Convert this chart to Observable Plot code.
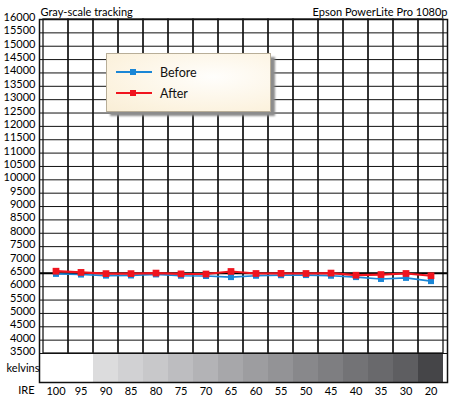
<!DOCTYPE html>
<html><head><meta charset="utf-8">
<script src="https://cdn.jsdelivr.net/npm/d3@7"></script>
<script src="https://cdn.jsdelivr.net/npm/@observablehq/plot@0.6"></script>
<style>
body{margin:0;background:#fff;font-family:Lato,sans-serif}
#wrap{position:relative;width:450px;height:398px}
#legend{position:absolute;left:106px;top:53px;width:163px;height:57px;border:1px solid #b8ae98;background:radial-gradient(ellipse at 65% 40%, #fffefc 0%, #fcf3e0 70%, #f9eed6 100%);box-shadow:4px 4px 2px #8c8c8c;}
.item{position:absolute;left:9px;display:flex;align-items:center;font-size:12.5px;color:#111;height:14px}
.item span{margin-left:8px}
</style></head>
<body><div id="wrap"><div id="legend"></div></div>
<script>
const title = "Gray-scale tracking";
const subtitle = "Epson PowerLite Pro 1080p";
const ire = ["100","95","90","85","80","75","70","65","60","55","50","45","40","35","30","20"];
const grays = ["#ffffff","#ffffff","#dcdcdd","#d1d1d3","#c8c8ca","#bdbdc0","#b3b3b6","#a7a7aa","#9d9da0","#939396","#88888b","#7e7e81","#737376","#69696c","#5e5e61","#454548"];
const before = [6480,6455,6415,6420,6460,6410,6400,6360,6410,6430,6435,6410,6360,6290,6330,6210];
const after  = [6580,6535,6490,6490,6510,6480,6475,6570,6495,6500,6495,6510,6430,6455,6495,6410];
const seriesNames = ["Before","After"];
const seriesColors = ["#1a86d6","#f0141e"];
const yTicks = d3.range(3500, 16001, 500);
const yMin = 3500, yMax = 16000, bandBottom = 2415, reference = 6500;

const beforeData = ire.map((x,i)=>({x, y: before[i]}));
const afterData = ire.map((x,i)=>({x, y: after[i]}));
const bandData = ire.map((x,i)=>({x, fill: grays[i]}));

const font = 'Lato, sans-serif';
const chart = Plot.plot({
  width: 450, height: 398,
  marginLeft: 39, marginRight: 3, marginTop: 19, marginBottom: 16,
  style: {fontFamily: font, fontSize: "11px", color: "#000", background: "transparent", overflow: "visible"},
  x: {type: "band", domain: ire, padding: 0},
  y: {domain: [bandBottom, yMax]},
  color: {type: "identity"},
  marks: [
    Plot.barY(bandData, {x: "x", y1: bandBottom, y2: yMin, fill: "fill", inset: 0}),
    Plot.barY(ire, {x: d=>d, y1: yMin, y2: yMax, fill: "none", stroke: "#1a1a1a", strokeWidth: 1.3, inset: 0}),
    Plot.ruleY(yTicks, {stroke: "#111", strokeWidth: 1}),
    Plot.ruleY([reference], {stroke: "#000", strokeWidth: 2}),
    Plot.frame({stroke: "#111", strokeWidth: 1.5}),
    Plot.line(beforeData, {x: "x", y: "y", stroke: seriesColors[0], strokeWidth: 1.6}),
    Plot.dot(beforeData, {x: "x", y: "y", symbol: "square", r: 3.4, fill: seriesColors[0], stroke: "none"}),
    Plot.line(afterData, {x: "x", y: "y", stroke: seriesColors[1], strokeWidth: 2.2}),
    Plot.dot(afterData, {x: "x", y: "y", symbol: "square", r: 3.8, fill: seriesColors[1], stroke: "none"}),
    Plot.axisY({ticks: yTicks, tickFormat: d => String(d), tickSize: 0, tickPadding: 4, dy: -2, label: null, fontSize: 11}),
    Plot.axisX({tickSize: 0, tickPadding: 5, label: null, fontSize: 11}),
    Plot.text(["kelvins"], {frameAnchor: "left", y: () => (bandBottom + yMin) / 2, text: d=>d, textAnchor: "end", dx: 0, fontSize: 11}),
    Plot.text(["IRE"], {frameAnchor: "bottom-left", text: d=>d, textAnchor: "end", dx: -5, dy: 11, fontSize: 11}),
    Plot.text([title], {frameAnchor: "top-left", text: d=>d, textAnchor: "start", lineAnchor: "bottom", dx: 1, dy: -4, fontSize: 11}),
    Plot.text([subtitle], {frameAnchor: "top-right", text: d=>d, textAnchor: "end", lineAnchor: "bottom", dx: 0, dy: -4, fontSize: 11})
  ]
});
document.getElementById("wrap").prepend(chart);

const legend = document.getElementById("legend");
seriesNames.forEach((name, i) => {
  const item = document.createElement("div");
  item.className = "item";
  item.style.top = (11 + i * 21) + "px";
  item.innerHTML = `<svg width="36" height="10"><line x1="0" x2="36" y1="5" y2="5" stroke="${seriesColors[i]}" stroke-width="2"/><rect x="14" y="2" width="6" height="6" fill="${seriesColors[i]}"/></svg><span>${name}</span>`;
  legend.appendChild(item);
});
</script>
</body></html>
